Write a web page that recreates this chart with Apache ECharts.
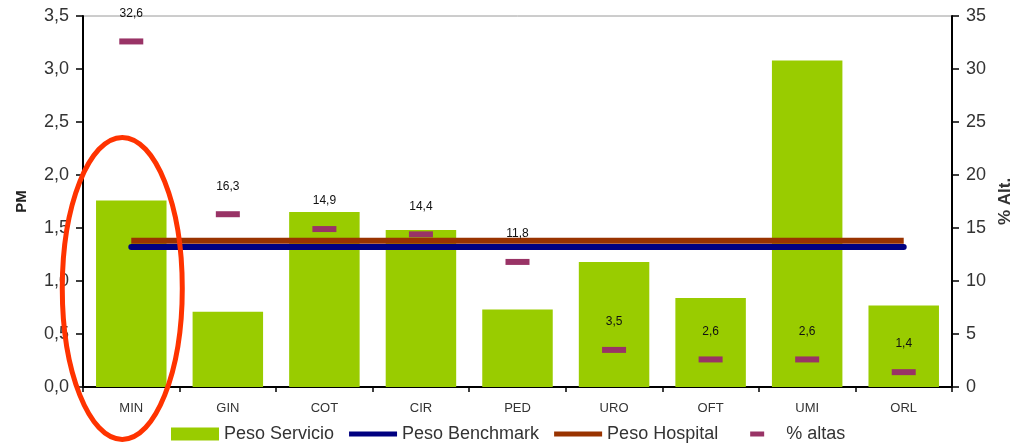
<!DOCTYPE html>
<html>
<head>
<meta charset="utf-8">
<script src="https://cdn.jsdelivr.net/npm/echarts@6/dist/echarts.min.js"></script>
<style>
html,body{margin:0;padding:0;background:#fff;}
#chart{width:1022px;height:444px;}
</style>
</head>
<body>
<div id="chart"></div>
<script>
var categories = ['MIN','GIN','COT','CIR','PED','URO','OFT','UMI','ORL'];
var pesoServicio = [1.76, 0.71, 1.65, 1.48, 0.73, 1.18, 0.84, 3.08, 0.77];
var pesoBenchmark = [1.32, 1.32, 1.32, 1.32, 1.32, 1.32, 1.32, 1.32, 1.32];
var pesoHospital = [1.38, 1.38, 1.38, 1.38, 1.38, 1.38, 1.38, 1.38, 1.38];
var pctAltas = [32.6, 16.3, 14.9, 14.4, 11.8, 3.5, 2.6, 2.6, 1.4];
var leftTicks = {min: 0, max: 3.5, interval: 0.5};
var rightTicks = {min: 0, max: 35, interval: 5};

var font = 'Liberation Sans, Arial, sans-serif';
var chart = echarts.init(document.getElementById('chart'), null, {renderer: 'canvas'});

var lineIcon = 'path://M0,0M48,13M0,4h48v5h-48z';
var dashIcon = 'path://M0,0M48,13M17,4h14v5h-14z';

var option = {
  animation: false,
  backgroundColor: '#fff',
  grid: {left: 83, right: 70, top: 16, bottom: 57, show: true, borderColor: '#9a9a9a', borderWidth: 1, containLabel: false},
  legend: {
    left: 166, top: 420,
    itemWidth: 48, itemHeight: 13, itemGap: 15,
    textStyle: {fontFamily: font, fontSize: 18, color: '#333'},
    data: [
      {name: 'Peso Servicio', icon: 'rect'},
      {name: 'Peso Benchmark', icon: lineIcon},
      {name: 'Peso Hospital', icon: lineIcon},
      {name: '% altas', icon: dashIcon}
    ]
  },
  xAxis: {
    type: 'category',
    data: categories,
    boundaryGap: true,
    axisLine: {lineStyle: {color: '#000', width: 2}},
    axisTick: {show: true, length: 5, lineStyle: {color: '#000', width: 1.5}},
    axisLabel: {fontFamily: font, fontSize: 13, color: '#333', margin: 15}
  },
  yAxis: [
    {
      type: 'value', min: leftTicks.min, max: leftTicks.max, interval: leftTicks.interval,
      name: 'PM', nameLocation: 'middle', nameRotate: 90, nameGap: 54,
      nameTextStyle: {fontFamily: font, fontSize: 15, fontWeight: 'bold', color: '#222'},
      axisLine: {show: true, lineStyle: {color: '#000', width: 2}},
      axisTick: {show: true, length: 7, lineStyle: {color: '#000', width: 1.5}},
      splitLine: {show: false},
      axisLabel: {fontFamily: font, fontSize: 18, color: '#333', margin: 14,
        formatter: function (v) { return v.toFixed(1).replace('.', ','); }}
    },
    {
      type: 'value', min: rightTicks.min, max: rightTicks.max, interval: rightTicks.interval,
      position: 'right',
      name: '% Alt.', nameLocation: 'middle', nameRotate: 90, nameGap: 44,
      nameTextStyle: {fontFamily: font, fontSize: 17, fontWeight: 'bold', color: '#333'},
      axisLine: {show: true, lineStyle: {color: '#000', width: 2}},
      axisTick: {show: true, length: 7, lineStyle: {color: '#000', width: 1.5}},
      splitLine: {show: false},
      axisLabel: {fontFamily: font, fontSize: 18, color: '#333', margin: 14}
    }
  ],
  series: [
    {
      name: 'Peso Servicio', type: 'bar', yAxisIndex: 0, data: pesoServicio,
      barWidth: '73%',
      itemStyle: {color: '#99CC00'}
    },
    {
      name: 'Peso Benchmark', type: 'line', yAxisIndex: 0, data: pesoBenchmark,
      symbol: 'none', z: 3,
      lineStyle: {color: '#000080', width: 6, cap: 'round'},
      itemStyle: {color: '#000080'}
    },
    {
      name: 'Peso Hospital', type: 'line', yAxisIndex: 0, data: pesoHospital,
      symbol: 'none', z: 4,
      lineStyle: {color: '#993300', width: 6, cap: 'butt'},
      itemStyle: {color: '#993300'}
    },
    {
      name: '% altas', type: 'scatter', yAxisIndex: 1, data: pctAltas,
      symbol: 'rect', symbolSize: [24, 6], z: 5,
      itemStyle: {color: '#993366', opacity: 1},
      label: {
        show: true, position: 'top', distance: 19,
        fontFamily: font, fontSize: 12, color: '#111',
        formatter: function (p) { return String(p.value).replace('.', ','); }
      }
    }
  ]
};
chart.setOption(option);

var cx = chart.convertToPixel({xAxisIndex: 0}, categories[0]) - 9;
var cy = chart.convertToPixel({yAxisIndex: 0}, 0.93);
chart.setOption({
  graphic: [{
    type: 'ellipse', z: 100,
    shape: {cx: cx, cy: cy, rx: 60, ry: 151},
    style: {fill: 'none', stroke: '#FF3300', lineWidth: 5}
  }]
});
</script>
</body>
</html>
